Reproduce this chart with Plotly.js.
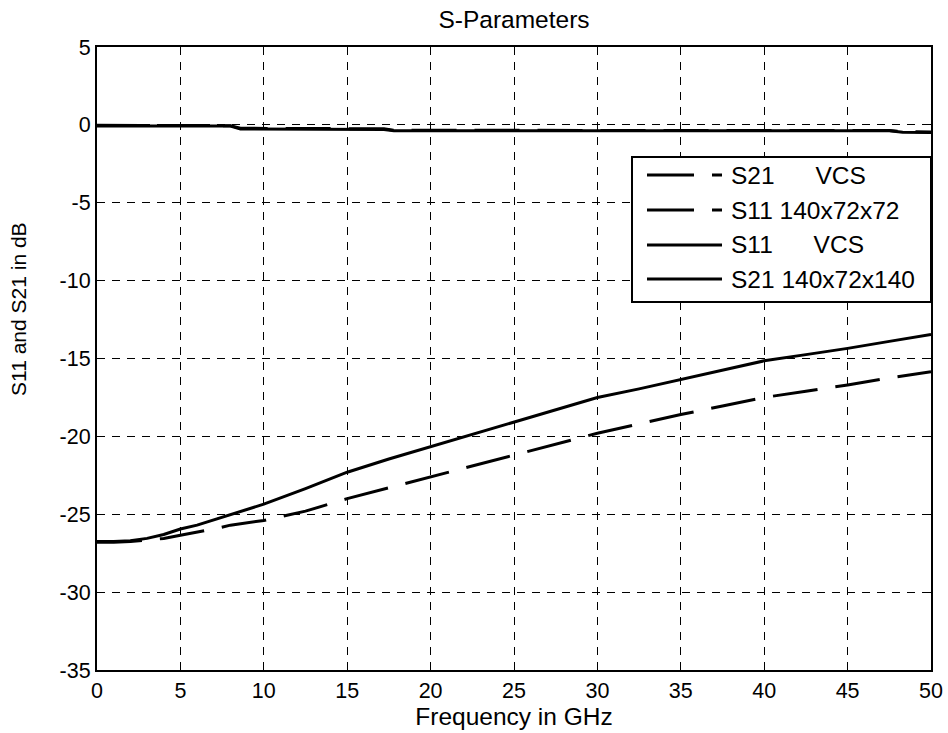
<!DOCTYPE html>
<html>
<head>
<meta charset="utf-8">
<script src="https://cdn.plot.ly/plotly-3.0.1.min.js"></script>
<style>
  html, body { margin: 0; padding: 0; background: #ffffff; }
  #chart { width: 948px; height: 733px; }
</style>
</head>
<body>
<div id="chart"></div>
<script>
// ---------------- data ----------------
var seriesNames = ['S21\u00a0\u00a0\u00a0\u00a0\u00a0\u00a0VCS', 'S11 140x72x72', 'S11\u00a0\u00a0\u00a0\u00a0\u00a0\u00a0VCS', 'S21 140x72x140'];
var seriesDash = ['dashed', 'dashed', 'solid', 'solid'];

// transmission curves (near 0 dB)
var freqTop = [0, 8, 8.6, 17.2, 17.8, 47.5, 48.3, 50];
var s21Vcs = [-0.03, -0.05, -0.22, -0.25, -0.35, -0.36, -0.44, -0.46];
var s21Big = [-0.07, -0.08, -0.27, -0.29, -0.38, -0.38, -0.47, -0.49];

// reflection curves
var freqLow = [0, 1, 2, 3, 4, 5, 6, 7, 8, 9, 10, 12.5, 15, 17.5, 20, 22.5, 25, 27.5, 30, 32.5, 35, 37.5, 40, 42.5, 45, 47.5, 50];
var s11Small = [-26.8, -26.8, -26.75, -26.65, -26.55, -26.35, -26.15, -25.95, -25.7, -25.55, -25.4, -24.8, -24.0, -23.3, -22.6, -21.9, -21.2, -20.5, -19.8, -19.2, -18.6, -18.05, -17.5, -17.1, -16.7, -16.25, -15.85];
var s11Vcs = [-26.75, -26.75, -26.7, -26.55, -26.3, -25.95, -25.7, -25.35, -25.0, -24.7, -24.35, -23.35, -22.3, -21.45, -20.65, -19.85, -19.05, -18.25, -17.5, -16.95, -16.35, -15.75, -15.15, -14.75, -14.35, -13.9, -13.45];

var xTicks = [0, 5, 10, 15, 20, 25, 30, 35, 40, 45, 50];
var yTicks = [5, 0, -5, -10, -15, -20, -25, -30, -35];

// ---------------- styling ----------------
var W = 948, H = 733;
var M = {l: 97, r: 17, t: 47, b: 63};
var plotW = W - M.l - M.r, plotH = H - M.t - M.b;
function px2x(px) { return (px - M.l) / plotW; }
function px2y(py) { return (H - M.b - py) / plotH; }

var FONT = 'Liberation Sans, Arial, Helvetica, sans-serif';
var DASH = '45px,18px';
var LW = 3;

function mk(x, y, i) {
  return {
    x: x, y: y, type: 'scatter', mode: 'lines', name: seriesNames[i],
    showlegend: false,
    line: {color: '#000000', width: LW, dash: seriesDash[i] === 'dashed' ? DASH : 'solid'},
    hoverinfo: 'x+y+name'
  };
}

var traces = [
  mk(freqTop, s21Vcs, 0),
  mk(freqLow, s11Small, 1),
  mk(freqLow, s11Vcs, 2),
  mk(freqTop, s21Big, 3)
];

// legend drawn as a boxed key like the original
var shapes = [{
  type: 'rect', xref: 'paper', yref: 'paper',
  x0: px2x(632), x1: 1, y0: px2y(302), y1: px2y(157),
  line: {color: '#000000', width: 2}, fillcolor: '#ffffff', layer: 'above'
}];
var annotations = [];
var rowY = [175, 210, 245, 279];
for (var i = 0; i < seriesNames.length; i++) {
  shapes.push({
    type: 'line', xref: 'paper', yref: 'paper', layer: 'above',
    x0: px2x(647), x1: px2x(722), y0: px2y(rowY[i]), y1: px2y(rowY[i]),
    line: {color: '#000000', width: LW, dash: seriesDash[i] === 'dashed' ? '47px,18px' : 'solid'}
  });
  annotations.push({
    xref: 'paper', yref: 'paper', x: px2x(729), y: px2y(rowY[i]),
    xanchor: 'left', yanchor: 'middle', showarrow: false,
    text: seriesNames[i], font: {family: FONT, size: 24.5, color: '#000000'}
  });
}
// y axis label (placed as in the original)
annotations.push({
  xref: 'paper', yref: 'paper', x: px2x(18), y: px2y(309),
  xanchor: 'center', yanchor: 'middle', showarrow: false, textangle: -90,
  text: 'S11 and S21 in dB', font: {family: FONT, size: 21, color: '#000000'}
});

var axisCommon = {
  showline: true, linecolor: '#000000', linewidth: 2, mirror: 'ticks',
  ticks: 'inside', ticklen: 6, tickwidth: 1, tickcolor: '#000000',
  showgrid: true, gridcolor: '#000000', gridwidth: 1, griddash: '8px,7px',
  zeroline: false, tickfont: {family: FONT, size: 21.5, color: '#000000'}
};

var layout = {
  width: W, height: H,
  margin: M,
  paper_bgcolor: '#ffffff', plot_bgcolor: '#ffffff',
  showlegend: false,
  title: {
    text: 'S-Parameters', x: 0.5, xref: 'paper', xanchor: 'center',
    y: 1 - 19 / H, yref: 'container', yanchor: 'middle',
    font: {family: FONT, size: 24.5, color: '#000000'}
  },
  xaxis: Object.assign({}, axisCommon, {
    range: [0, 50], tickvals: xTicks, ticktext: xTicks.map(String),
    title: {text: 'Frequency in GHz', standoff: 6, font: {family: FONT, size: 24.5, color: '#000000'}}
  }),
  yaxis: Object.assign({}, axisCommon, {
    range: [-35, 5], tickvals: yTicks, ticktext: yTicks.map(String)
  }),
  shapes: shapes,
  annotations: annotations
};

Plotly.newPlot('chart', traces, layout, {displayModeBar: false, staticPlot: true});
</script>
</body>
</html>
